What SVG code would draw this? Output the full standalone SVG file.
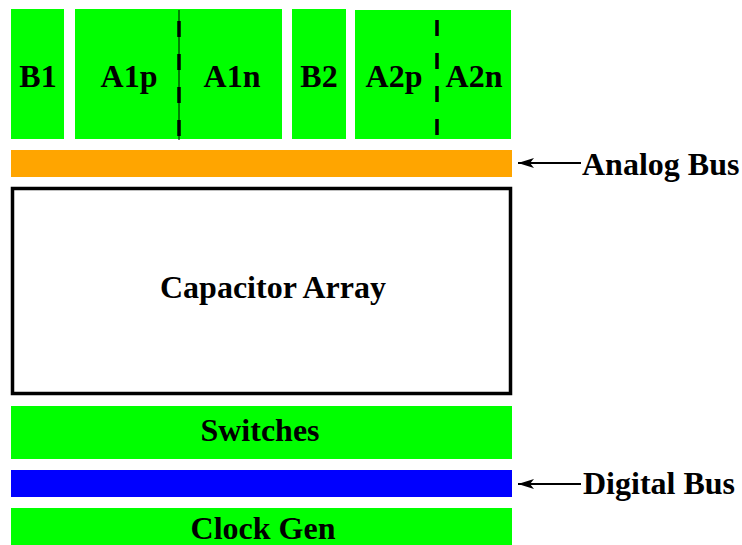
<svg xmlns="http://www.w3.org/2000/svg" width="742" height="545" viewBox="0 0 742 545">
  <defs>
    <style>
      .blk { fill: #00ff00; }
      .lbl { font-family: "Liberation Serif", "Times New Roman", serif; font-weight: bold; font-size: 32px; fill: #000; text-anchor: middle; }
      .note { font-family: "Liberation Serif", "Times New Roman", serif; font-weight: bold; font-size: 32px; fill: #000; }
      .split { stroke: #000; stroke-width: 3.5; stroke-dasharray: 16 17; fill: none; }
      .ptr { stroke: #000; stroke-width: 2; fill: none; marker-end: url(#head); }
    </style>
    <marker id="head" viewBox="0 0 16 10" refX="16" refY="5" markerWidth="17" markerHeight="10" markerUnits="userSpaceOnUse" orient="auto">
      <path d="M0,0 L16,5 L0,10 L4,5 Z" fill="#000"/>
    </marker>
  </defs>

  <g id="b1">
    <rect class="blk" x="11" y="9" width="53" height="130"/>
    <text class="lbl" x="38" y="87">B1</text>
  </g>

  <g id="a1">
    <rect class="blk" x="75" y="9" width="207" height="130"/>
    <line x1="179" y1="10" x2="179" y2="140" stroke="#000" stroke-width="1"/>
    <line class="split" x1="179" y1="21" x2="179" y2="140"/>
    <text class="lbl" x="129" y="87">A1p</text>
    <text class="lbl" x="232" y="87">A1n</text>
  </g>

  <g id="b2">
    <rect class="blk" x="292" y="9" width="54" height="130"/>
    <text class="lbl" x="319" y="87">B2</text>
  </g>

  <g id="a2">
    <rect class="blk" x="355" y="10" width="156" height="129"/>
    <line class="split" x1="437" y1="20" x2="437" y2="139"/>
    <text class="lbl" x="394" y="87">A2p</text>
    <text class="lbl" x="474" y="87">A2n</text>
  </g>

  <g id="analog-bus">
    <rect x="11" y="150" width="501" height="27" fill="#ffa500"/>
  </g>

  <g id="cap-array">
    <rect x="12.5" y="188.5" width="498" height="205" fill="#fff" stroke="#000" stroke-width="3.5"/>
    <text class="lbl" x="273" y="298">Capacitor Array</text>
  </g>

  <g id="switches">
    <rect class="blk" x="11" y="406" width="501" height="53"/>
    <text class="lbl" x="260" y="441">Switches</text>
  </g>

  <g id="digital-bus">
    <rect x="11" y="470" width="501" height="27" fill="#0000ff"/>
  </g>

  <g id="clock-gen">
    <rect class="blk" x="11" y="508" width="501" height="37"/>
    <text class="lbl" x="263" y="539">Clock Gen</text>
  </g>

  <g id="connectors">
    <line class="ptr" x1="581" y1="163" x2="518" y2="163"/>
    <line class="ptr" x1="581" y1="484" x2="518" y2="484"/>
  </g>

  <g id="callouts">
    <text class="note" x="582" y="175">Analog Bus</text>
    <text class="note" x="583" y="494">Digital Bus</text>
  </g>
</svg>
